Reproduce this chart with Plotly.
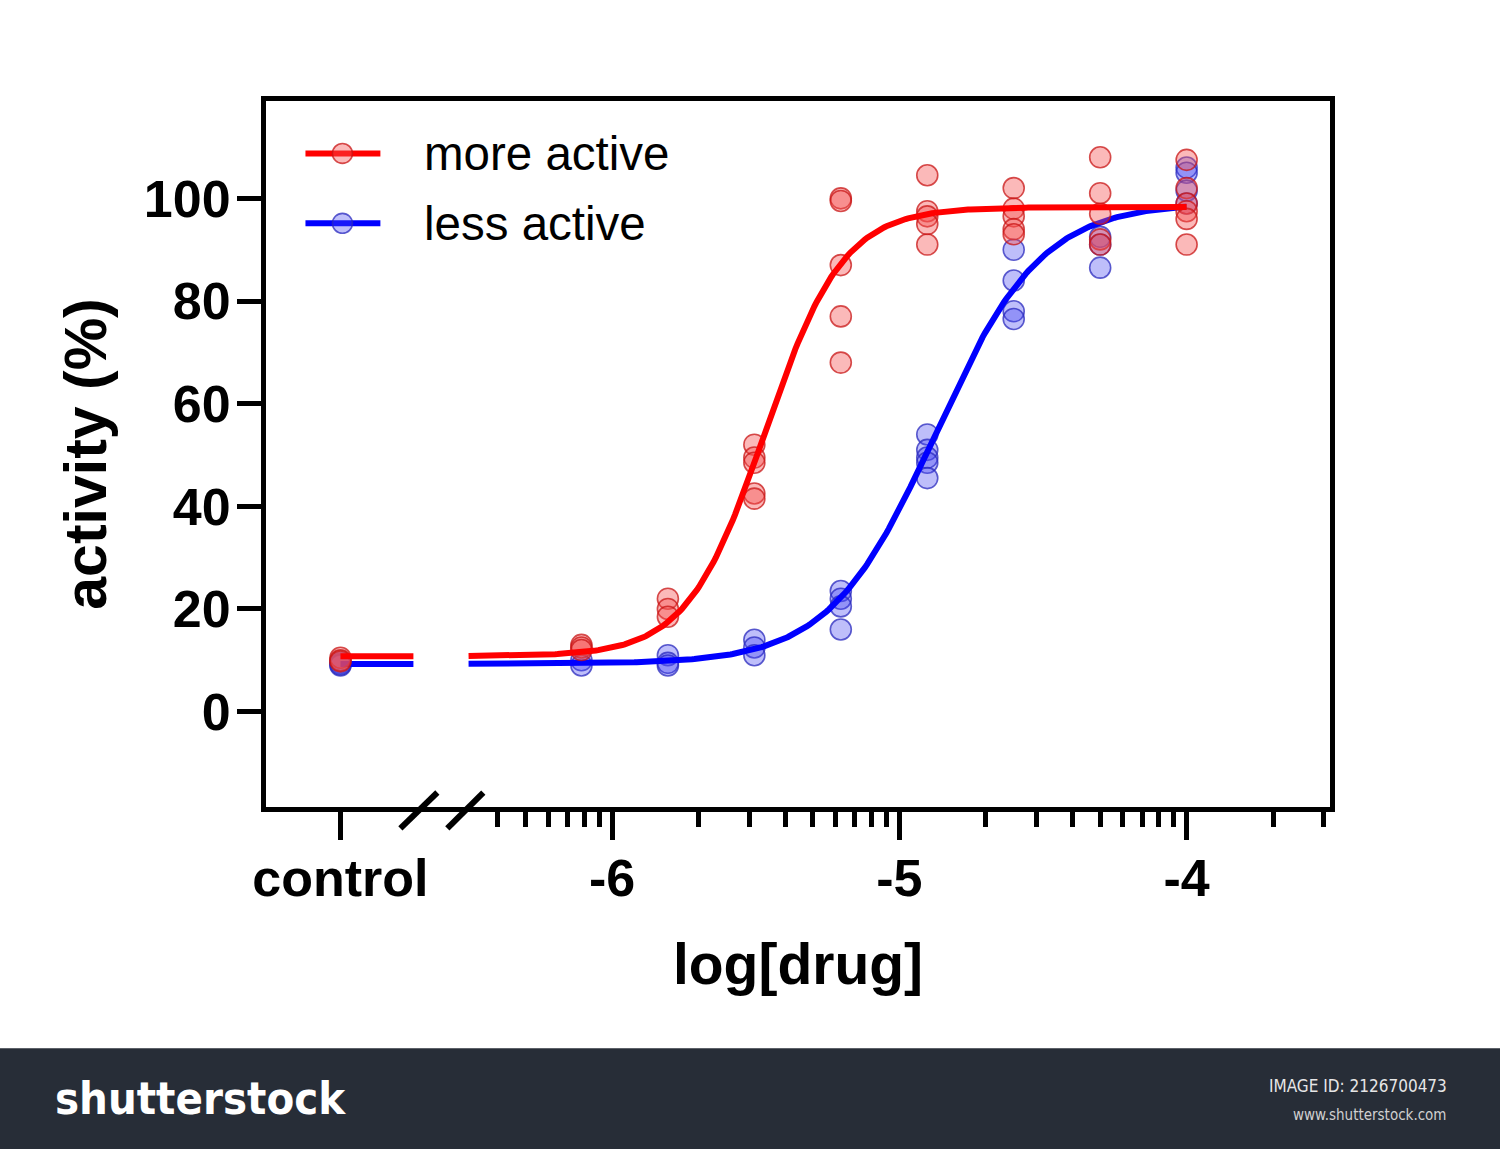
import numpy as np
import plotly.graph_objects as go

# ---------------- data ----------------
CONTROL_POS = -6.946          # where the "control" group sits on the log axis
log_conc = [-6.107, -5.806, -5.505, -5.204, -4.903, -4.602, -4.301, -4.0]

red_control = [10.5, 10.0, 9.8]
red_values = [
    [13, 12.5, 12],
    [22, 20, 18.5],
    [52, 49.5, 48.5, 42.5, 41.5],
    [100, 99.5, 87, 77, 68],
    [104.5, 97.5, 96.5, 95, 91],
    [102, 98, 96.5, 94, 93],
    [108, 101, 97, 92, 91],
    [107.5, 102, 99, 97.5, 96, 91],
]
blue_control = [9.5, 9.0, 9.2]
blue_values = [
    [10, 9],
    [11, 9.5, 9],
    [14, 12.5, 11],
    [23.5, 22, 20.5, 16],
    [54, 51, 49.5, 48.5, 45.5],
    [90, 84, 78, 76.5],
    [92.5, 91, 86.5],
    [106, 105, 101.5, 99],
]

# fitted 4-parameter logistic curves: bottom, top, logEC50, hill
red_fit = dict(bottom=10.8, top=98.3, logec50=-5.467, hill=3.2)
blue_fit = dict(bottom=9.3, top=99.2, logec50=-4.874, hill=2.35)

series_names = ["more active", "less active"]
x_ticklabels = ["control", "-6", "-5", "-4"]
y_ticks = [0, 20, 40, 60, 80, 100]

# ---------------- style ----------------
W, H = 1500, 1149
LW = 5                                   # frame line width
FRAME = dict(l=263, r=1333, t=98, b=810)  # frame line centres (px)
# plot area sits inside the frame line (plotly draws the line outside the area)
L = FRAME["l"] + LW / 2
R = W - (FRAME["r"] - LW / 2)
T = FRAME["t"] + LW / 2
B = H - (FRAME["b"] - LW / 2)

# axis calibration: pixel of x=-6, pixels per decade; pixel of y=0, pixels per unit
X0PX, XPX = 612, 287.5
Y0PX, YPX = 712, 5.14
XR = [-6 + (L - X0PX) / XPX, -6 + ((W - R) - X0PX) / XPX]
YR = [(Y0PX - (H - B)) / YPX, (Y0PX - T) / YPX]

RED, BLUE = "rgb(255,0,0)", "rgb(0,0,255)"
RED_FILL, BLUE_FILL = "rgba(245,80,80,0.40)", "rgba(70,70,240,0.35)"
RED_EDGE, BLUE_EDGE = "rgba(200,20,20,0.75)", "rgba(40,40,190,0.75)"
FONT = "Liberation Sans, Arial, sans-serif"
FOOT_FONT = "Liberation Sans Narrow, DejaVu Sans Condensed, sans-serif"


def px2paper_x(px):
    return (px - L) / (W - L - R)


def px2paper_y(py):
    return (H - B - py) / (H - T - B)


def four_pl(x, p):
    x = np.asarray(x)
    return p["bottom"] + (p["top"] - p["bottom"]) / (1 + 10 ** ((p["logec50"] - x) * p["hill"]))


def flatten(ctrl, vals):
    xs, ys = [], []
    for v in ctrl:
        xs.append(CONTROL_POS)
        ys.append(v)
    for xc, group in zip(log_conc, vals):
        for v in group:
            xs.append(xc)
            ys.append(v)
    return xs, ys


fig = go.Figure()

curve_x = np.linspace(-6.50, log_conc[-1], 300)
ctrl_seg_x = [CONTROL_POS, -6.692]

for name, ctrl, vals, fit, col, fill, edge in [
    (series_names[1], blue_control, blue_values, blue_fit, BLUE, BLUE_FILL, BLUE_EDGE),
    (series_names[0], red_control, red_values, red_fit, RED, RED_FILL, RED_EDGE),
]:
    xs, ys = flatten(ctrl, vals)
    fig.add_trace(go.Scatter(
        x=xs, y=ys, mode="markers", showlegend=False,
        marker=dict(size=21, color=fill, line=dict(color=edge, width=1.6)),
        cliponaxis=False,
    ))
    fig.add_trace(go.Scatter(
        x=ctrl_seg_x, y=[fit["bottom"]] * 2, mode="lines", showlegend=False,
        line=dict(color=col, width=6),
    ))
    fig.add_trace(go.Scatter(
        x=curve_x, y=four_pl(curve_x, fit), mode="lines", showlegend=False,
        line=dict(color=col, width=6),
    ))

# minor ticks on the log axis (log10 of k*10^n)
minor_vals = ([np.log10(k * 1e-7) for k in range(4, 10)] +
              [np.log10(k * 1e-6) for k in range(2, 10)] +
              [np.log10(k * 1e-5) for k in range(2, 10)] +
              [np.log10(k * 1e-4) for k in range(2, 4)])

fig.update_layout(
    width=W, height=H,
    margin=dict(l=L, r=R, t=T, b=B),
    paper_bgcolor="white", plot_bgcolor="white",
    showlegend=False,
    font=dict(family=FONT, color="black"),
    xaxis=dict(
        range=XR, showgrid=False, zeroline=False,
        showline=True, linecolor="black", linewidth=LW, mirror=True,
        tickmode="array", tickvals=[CONTROL_POS, -6, -5, -4], ticktext=x_ticklabels,
        ticks="outside", ticklen=28, tickwidth=5, tickcolor="black",
        ticklabelstandoff=-6,
        tickfont=dict(size=52, family=FONT, weight="bold"),
        minor=dict(tickmode="array", tickvals=minor_vals, ticks="outside",
                   ticklen=15, tickwidth=5, tickcolor="black", showgrid=False),
        title=dict(text="log[drug]", font=dict(size=57, family=FONT, weight="bold"), standoff=39),
    ),
    yaxis=dict(
        range=YR, showgrid=False, zeroline=False,
        showline=True, linecolor="black", linewidth=LW, mirror=True,
        tickmode="array", tickvals=y_ticks,
        ticks="outside", ticklen=24, tickwidth=5, tickcolor="black",
        ticklabelstandoff=-4,
        tickfont=dict(size=52, family=FONT, weight="bold"),
        title=dict(text="activity (%)", font=dict(size=59, family=FONT, weight="bold"), standoff=20),
    ),
)

shapes = []
annotations = []

# axis-break slashes
for x0, x1 in [(400, 437), (447, 483)]:
    shapes.append(dict(type="line", xref="paper", yref="paper",
                       x0=px2paper_x(x0), x1=px2paper_x(x1),
                       y0=px2paper_y(829), y1=px2paper_y(793),
                       line=dict(color="black", width=6)))

# custom legend
for i, (name, col, fill, edge) in enumerate([
    (series_names[0], RED, RED_FILL, RED_EDGE),
    (series_names[1], BLUE, BLUE_FILL, BLUE_EDGE),
]):
    yc = 153 + i * 70
    shapes.append(dict(type="line", xref="paper", yref="paper",
                       x0=px2paper_x(305), x1=px2paper_x(380),
                       y0=px2paper_y(yc), y1=px2paper_y(yc),
                       line=dict(color=col, width=6)))
    shapes.append(dict(type="circle", xref="paper", yref="paper",
                       x0=px2paper_x(332), x1=px2paper_x(352),
                       y0=px2paper_y(yc + 10), y1=px2paper_y(yc - 10),
                       fillcolor=fill, line=dict(color=edge, width=1.6)))
    annotations.append(dict(xref="paper", yref="paper", x=px2paper_x(422), y=px2paper_y(yc),
                            xanchor="left", yanchor="middle", showarrow=False,
                            text=name, font=dict(size=47.5, family=FONT, color="black")))

# footer band
shapes.append(dict(type="rect", xref="paper", yref="paper",
                   x0=px2paper_x(-2), x1=px2paper_x(W + 2), y0=px2paper_y(1049), y1=px2paper_y(H + 2),
                   fillcolor="#272d37", line=dict(width=0), layer="above"))
annotations.append(dict(xref="paper", yref="paper", x=px2paper_x(52), y=px2paper_y(1099),
                        xanchor="left", yanchor="middle", showarrow=False,
                        text="shutterstock",
                        font=dict(size=45, family=FOOT_FONT, color="white", weight="bold")))
annotations.append(dict(xref="paper", yref="paper", x=px2paper_x(1450), y=px2paper_y(1087),
                        xanchor="right", yanchor="middle", showarrow=False,
                        text="IMAGE ID: 2126700473",
                        font=dict(size=17, family=FOOT_FONT, color="#e6e6e6")))
annotations.append(dict(xref="paper", yref="paper", x=px2paper_x(1450), y=px2paper_y(1116),
                        xanchor="right", yanchor="middle", showarrow=False,
                        text="www.shutterstock.com",
                        font=dict(size=15, family=FOOT_FONT, color="#d0d0d0")))

fig.update_layout(shapes=shapes, annotations=annotations)

fig.write_html("out.html",
               config={"displayModeBar": False},
               post_script="document.body.style.margin='0';document.body.style.padding='0';")
